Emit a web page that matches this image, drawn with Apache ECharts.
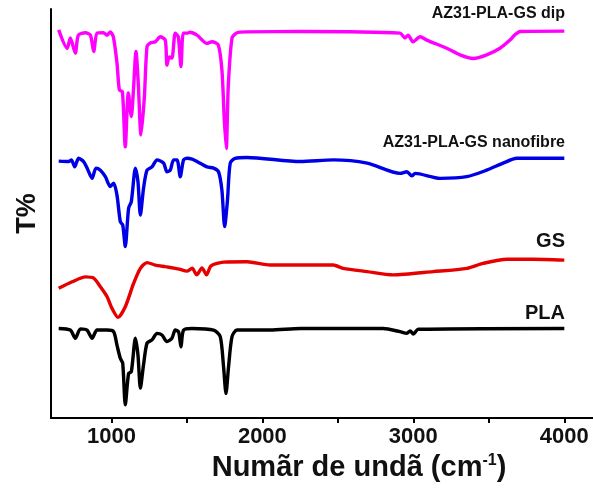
<!DOCTYPE html>
<html>
<head>
<meta charset="utf-8">
<script src="https://cdn.jsdelivr.net/npm/echarts@6/dist/echarts.min.js"></script>
<style>html,body{margin:0;padding:0;background:#fff}#c{width:593px;height:488px}</style>
</head>
<body>
<div id="c"></div>
<script>
// Wavenumbers (cm^-1) and transmittance (arbitrary offset units)
const dipWn = [651,707,728,761,781,828,861,883,905,947,971,993,1013,1037,1053,1073,1092,1112,1132,1145,1163,1178,1196,1218,1236,1258,1291,1324,1357,1368,1384,1401,1423,1443,1461,1476,1501,1520,1567,1633,1666,1708,1732,1748,1761,1774,1799,1832,1898,2251,2912,2945,2965,2998,3045,3089,3221,3309,3397,3486,3574,3640,3673,3707,4000];
const dipT  = [94.9,90.4,92.9,89.2,93.6,94.2,93.6,89.6,94.1,94.2,93.6,94.4,93.2,86.8,80.2,79.8,66.3,79.5,73.7,79.5,89.6,81.9,69.2,78.2,90.8,91.7,92.0,93.2,92.4,86.3,88.3,88.0,94.1,93.2,85.9,94.1,94.1,94.3,93.6,91.6,92.0,91.2,85.1,72.9,65.9,81.0,92.9,94.2,94.4,94.5,94.1,92.9,93.6,92.0,93.2,92.4,90.4,88.8,87.9,88.8,90.4,92.4,93.7,94.5,94.6];

const nanoWn = [651,717,735,757,783,816,839,872,898,927,960,993,1015,1037,1059,1075,1092,1114,1132,1159,1176,1192,1213,1236,1269,1302,1346,1368,1390,1412,1435,1456,1478,1501,1534,1567,1633,1677,1710,1732,1750,1769,1787,1820,1898,2251,2469,2694,2912,2957,2990,3012,3177,3354,3486,3594,3685,4000];
const nanoT  = [62.8,62.7,63.1,61.4,63.5,62.7,61.1,58.6,61.1,60.6,59.0,56.6,57.4,54.5,48.0,47.2,41.9,51.3,52.9,61.1,57.8,49.6,56.2,60.6,61.4,63.1,62.3,60.2,60.6,63.1,63.1,59.0,63.1,63.5,63.3,62.7,61.4,61.1,60.2,55.7,46.8,53.3,62.3,63.5,63.7,62.7,63.1,62.3,59.8,60.2,59.2,59.8,58.6,59.0,60.6,62.3,63.5,63.5];

const gsWn = [651,740,828,883,927,971,1004,1044,1092,1147,1192,1236,1291,1357,1423,1450,1500,1535,1565,1600,1630,1660,1743,1898,2052,2251,2469,2535,2694,2866,3131,3356,3462,3621,3793,4000];
const gsT  = [31.7,33.3,34.5,34.2,32.1,29.7,26.8,24.6,27.2,32.9,36.6,38.0,37.4,37.0,36.6,36.4,35.9,36.6,35.0,36.7,35.0,37.2,38.1,38.2,37.4,37.4,37.4,36.6,35.8,35.0,35.8,36.6,37.8,38.8,38.8,38.6];

const plaWn = [651,728,761,795,839,872,905,971,1015,1037,1059,1075,1092,1114,1132,1159,1176,1192,1213,1236,1269,1302,1335,1368,1401,1423,1445,1461,1478,1534,1677,1721,1743,1759,1776,1799,1832,2052,2251,2800,2912,2957,2979,3000,3032,4000];
const plaT  = [21.9,21.5,19.5,21.8,21.5,19.5,21.5,21.5,21.1,17.8,14.6,13.4,3.2,10.9,11.3,19.5,15.4,7.3,13.0,18.3,19.1,20.7,20.3,18.7,19.5,21.5,21.1,17.4,21.5,21.9,21.5,19.9,12.5,6.0,12.5,19.9,21.5,21.5,21.9,21.9,21.1,20.7,21.3,20.5,21.7,21.9];

const xTicks = [1000,1500,2000,2500,3000,3500,4000];
const xLabels = [1000,2000,3000,4000];
const seriesNames = ['AZ31-PLA-GS dip','AZ31-PLA-GS nanofibre','GS','PLA'];

const zip = (a,b) => a.map((v,i)=>[v,b[i]]);
const FONT = '"Liberation Sans", Arial, sans-serif';

const chart = echarts.init(document.getElementById('c'));
const mk = (name, wn, t, color) => ({
  name, type:'line', data: zip(wn,t), showSymbol:false, smooth:0.25,
  lineStyle:{color, width:3.4}, itemStyle:{color}, animation:false
});
chart.setOption({
  animation:false,
  grid:{left:51, top:9, right:0, bottom:70},
  xAxis:{
    type:'value', min:600, max:4190,
    name:'{a|Numãr de undã (cm}{s|-1}{a|)}',
    nameLocation:'middle', nameGap:31,
    nameTextStyle:{padding:[0,0,0,74], rich:{
      a:{fontFamily:FONT, fontWeight:'bold', fontSize:29, color:'#111'},
      s:{fontFamily:FONT, fontWeight:'bold', fontSize:16, color:'#111', verticalAlign:'top', padding:[0,0,14,0]}
    }},
    axisLine:{show:true, lineStyle:{color:'#000', width:2}},
    axisTick:{show:true, customValues:xTicks, length:5, lineStyle:{color:'#000', width:2}},
    axisLabel:{customValues:xLabels, formatter:v=>String(v), fontFamily:FONT, fontWeight:'bold', fontSize:22, color:'#111', margin:8},
    splitLine:{show:false}
  },
  yAxis:{
    type:'value', min:0, max:100,
    name:'T%', nameLocation:'middle', nameGap:10, nameRotate:90,
    nameTextStyle:{fontFamily:FONT, fontWeight:'bold', fontSize:27, color:'#111'},
    axisLine:{show:true, lineStyle:{color:'#000', width:2}},
    axisTick:{show:false}, axisLabel:{show:false}, splitLine:{show:false}
  },
  graphic:[
    {type:'text', right:28, top:6, style:{text:seriesNames[0], font:'bold 16px '+FONT, fill:'#111'}},
    {type:'text', right:28, top:135, style:{text:seriesNames[1], font:'bold 16px '+FONT, fill:'#111'}},
    {type:'text', right:28, top:231, style:{text:seriesNames[2], font:'bold 20px '+FONT, fill:'#111'}},
    {type:'text', right:28, top:303, style:{text:seriesNames[3], font:'bold 20px '+FONT, fill:'#111'}}
  ],
  series:[
    mk(seriesNames[0], dipWn, dipT, '#ff00ff'),
    mk(seriesNames[1], nanoWn, nanoT, '#0000e6'),
    mk(seriesNames[2], gsWn, gsT, '#e60000'),
    mk(seriesNames[3], plaWn, plaT, '#000000')
  ]
});
</script>
</body>
</html>
